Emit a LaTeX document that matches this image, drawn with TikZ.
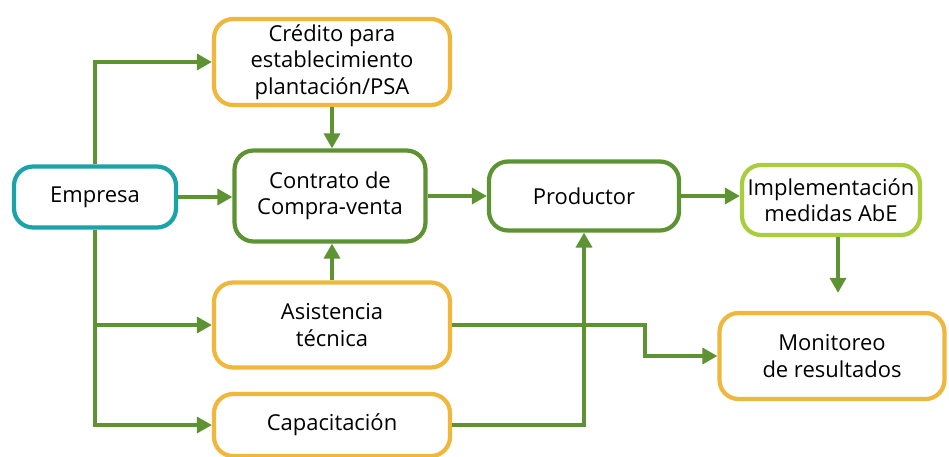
\documentclass[tikz,border=0pt]{standalone}
\usepackage{fontspec}
\setmainfont{Open Sans}
\usetikzlibrary{arrows.meta,calc}
\definecolor{tealbox}{HTML}{1AA3A8}
\definecolor{yellowbox}{HTML}{EFB73C}
\definecolor{greenbox}{HTML}{5E9334}
\definecolor{limebox}{HTML}{AACD3E}
\definecolor{arrowgreen}{HTML}{5E9334}
\tikzset{
	box/.style={draw, line width=2.4pt, rounded corners=0.38cm, fill=white, align=center,
		font=\fontsize{12.5}{15}\selectfont, inner sep=2pt},
	arr/.style={draw=arrowgreen, line width=2.2pt, -{Triangle[length=8.5pt,width=9pt]}},
}

\begin{document}
\begin{tikzpicture}[x=0.02cm, y=-0.02cm]
			%%%%% START %%%%%
			
			\useasboundingbox (0, 0) rectangle (949, 456);
			
			\node[box, draw=tealbox, minimum width=3.24cm, minimum height=1.22cm] (empresa) at (95, 197) {Empresa};
			\node[box, draw=yellowbox, minimum width=4.72cm, minimum height=1.72cm] (credito) at (332, 62) {Cr\'edito para\\establecimiento\\plantaci\'on/PSA};
			\node[box, draw=greenbox, minimum width=3.82cm, minimum height=1.82cm] (contrato) at (330, 196) {Contrato de\\Compra-venta};
			\node[box, draw=greenbox, minimum width=3.8cm, minimum height=1.38cm] (productor) at (584, 196) {Productor};
			\node[box, draw=limebox, minimum width=3.56cm, minimum height=1.4cm] (implementa) at (831, 200) {Implementaci\'on\\medidas AbE};
			\node[box, draw=yellowbox, minimum width=4.72cm, minimum height=1.7cm] (asistencia) at (332, 325) {Asistencia\\t\'ecnica};
			\node[box, draw=yellowbox, minimum width=4.72cm, minimum height=1.24cm] (capacita) at (332, 425) {Capacitaci\'on};
			\node[box, draw=yellowbox, minimum width=4.5cm, minimum height=1.72cm] (monitoreo) at (832, 356) {Monitoreo\\de resultados};
			
			\coordinate (bajada) at ($(implementa.south)+(7, 0)$);
			\coordinate (codo) at (645, 325);
			
			% Empresa hacia arriba y hacia abajo
			\draw[arr] (empresa.north) |- (credito.west);
			\draw[arr] (empresa.south) |- (asistencia.west);
			\draw[arr] (empresa.south) |- (capacita.west);
			\draw[arr] (empresa.east) -- (empresa.east -| contrato.west);
			
			\draw[arr] (credito.south) -- (credito.south |- contrato.north);
			\draw[arr] (asistencia.north) -- (asistencia.north |- contrato.south);
			\draw[arr] (contrato.east) -- (contrato.east -| productor.west);
			\draw[arr] (productor.east) -- (productor.east -| implementa.west);
			\draw[arr, shorten >=0.36cm] (bajada) -- (bajada |- monitoreo.north);
			
			\draw[arr] (asistencia.east) -- (codo) |- (monitoreo.west);
			\draw[arr] (capacita.east) -| (productor.south);
			
			%%%%% END %%%%%
		\end{tikzpicture}
\end{document}
